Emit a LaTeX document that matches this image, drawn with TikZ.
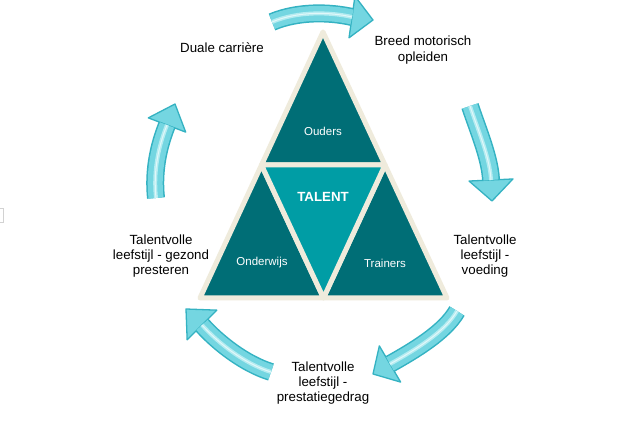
\documentclass[tikz,border=0pt]{standalone}
\usepackage{fontspec}
\setmainfont{Liberation Sans}
\usetikzlibrary{calc}
\definecolor{tealdark}{HTML}{006E76}
\definecolor{tealmid}{HTML}{009DA5}
\definecolor{creamb}{HTML}{EFEBDC}
\definecolor{arrfill}{HTML}{74D6E1}
\definecolor{arredge}{HTML}{34B2C2}
\definecolor{arrlight}{HTML}{B5ECF1}
\newcommand\myarrow[6]{%
 \draw[arredge, line width=18pt] #1 .. controls #2 and #3 .. #4;
 \filldraw[fill=arrfill, draw=arredge, line width=1.3pt, line join=round] ($#4!#6!90:#5$) -- #5 -- ($#4!#6!-90:#5$) -- cycle;
 \draw[arrfill, line width=15pt] #1 .. controls #2 and #3 .. #4;
 \draw[arrlight, line width=4pt] #1 .. controls #2 and #3 .. #4;
 \draw[white, opacity=.6, line width=1pt] #1 .. controls #2 and #3 .. #4;
}
\begin{document}
\begin{tikzpicture}[x=1pt,y=-1pt,
  lbl/.style={align=center, font=\fontsize{13.3}{15.3}\selectfont, text=black, inner sep=0pt},
  inlbl/.style={font=\fontsize{11.5}{13}\selectfont, text=white, inner sep=0pt},
  tri/.style={draw=creamb, line width=5pt, line join=round}]
\useasboundingbox (0,0) rectangle (641,435);
\fill[white] (0,0) rectangle (641,435);
% small artifact at left edge
\draw[gray!35, line width=0.8pt] (0,208) -- (3,208) -- (3,222) -- (0,222);
% triangle
\coordinate (A) at (323,32);
\coordinate (B) at (200,298);
\coordinate (C) at (447,298);
\coordinate (AB) at ($(A)!0.5!(B)$);
\coordinate (AC) at ($(A)!0.5!(C)$);
\coordinate (BC) at ($(B)!0.5!(C)$);
\filldraw[tri, fill=tealdark] (A) -- (AB) -- (AC) -- cycle;
\filldraw[tri, fill=tealdark] (AB) -- (B) -- (BC) -- cycle;
\filldraw[tri, fill=tealdark] (AC) -- (BC) -- (C) -- cycle;
\filldraw[tri, fill=tealmid] (AB) -- (AC) -- (BC) -- cycle;
\node[inlbl] (ouders) at (323,131) {Ouders};
\node[inlbl, font=\fontsize{13.3}{15}\selectfont\bfseries] (talent) at (323,197) {TALENT};
\node[inlbl] (onderwijs) at (262,263) {Onderwijs};
\node[inlbl] (trainers) at (385,263) {Trainers};
% arrows
\myarrow{(272,22)}{(298,11)}{(330,12)}{(352,17)}{(373,20)}{21pt}
\myarrow{(470,106)}{(478,130)}{(490,158)}{(491,180)}{(492,201)}{22pt}
\myarrow{(457,311)}{(445,332)}{(415,350)}{(390,364)}{(373,374)}{21pt}
\myarrow{(271,372)}{(245,364)}{(218,343)}{(202,325)}{(186,309)}{21pt}
\myarrow{(156,198)}{(153,170)}{(159,145)}{(167,125)}{(175,104)}{20pt}
% labels
\node[lbl] (duale) at (222,48) {Duale carrière};
\node[lbl] (breed) at (423,50) {Breed motorisch\\opleiden};
\node[lbl] (voeding) at (485,256) {Talentvolle\\leefstijl -\\voeding};
\node[lbl] (prest) at (323,383) {Talentvolle\\leefstijl -\\prestatiegedrag};
\node[lbl] (gezond) at (161,256) {Talentvolle\\leefstijl - gezond\\presteren};
\end{tikzpicture}
\end{document}
